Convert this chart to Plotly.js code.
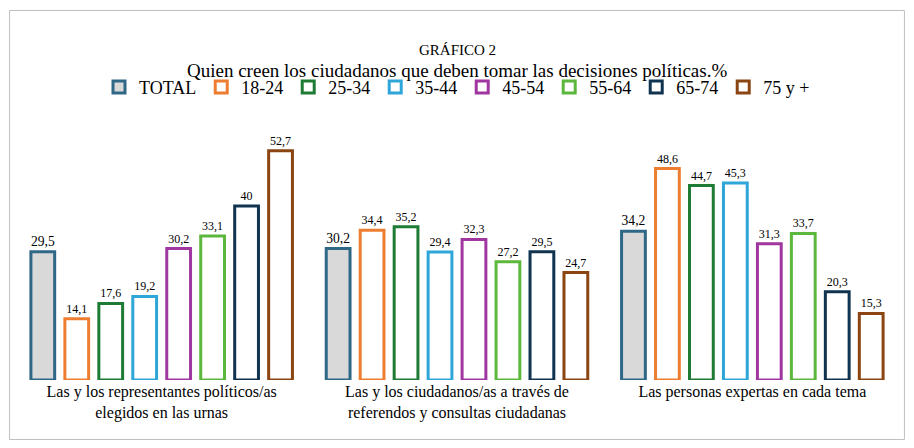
<!DOCTYPE html>
<html>
<head>
<meta charset="utf-8">
<script src="https://cdn.plot.ly/plotly-3.0.1.min.js"></script>
<style>body{margin:0}#chart{width:914px;height:448px}</style>
</head>
<body>
<div id="chart"></div>
<script>
const categories = [
  'Las y los representantes políticos/as<br>elegidos en las urnas',
  'Las y los ciudadanos/as a través de<br>referendos y consultas ciudadanas',
  'Las personas expertas en cada tema'
];
const seriesNames = ['TOTAL', '18-24', '25-34', '35-44', '45-54', '55-64', '65-74', '75 y +'];
const total = [29.5, 30.2, 34.2];
const age1824 = [14.1, 34.4, 48.6];
const age2534 = [17.6, 35.2, 44.7];
const age3544 = [19.2, 29.4, 45.3];
const age4554 = [30.2, 32.3, 31.3];
const age5564 = [33.1, 27.2, 33.7];
const age6574 = [40, 29.5, 20.3];
const age75 = [52.7, 24.7, 15.3];

const seriesValues = [total, age1824, age2534, age3544, age4554, age5564, age6574, age75];
const lineColors = ['#2f6787', '#ed7d31', '#1e7b34', '#2ea6d8', '#a0369f', '#5cb83c', '#10334f', '#8b4513'];

const data = seriesValues.map((vals, i) => ({
  type: 'bar',
  name: seriesNames[i],
  x: categories,
  y: vals,
  text: vals.map(v => String(v).replace('.', ',')),
  textposition: 'outside',
  cliponaxis: false,
  textfont: {size: i === 0 ? 15 : 12, color: '#000'},
  marker: {
    color: i === 0 ? '#d9d9d9' : '#ffffff',
    line: {color: lineColors[i], width: 3}
  }
}));

const layout = {
  width: 914,
  height: 448,
  font: {family: 'Liberation Serif, serif', color: '#000'},
  annotations: [
    {text: 'GRÁFICO 2', xref: 'paper', yref: 'paper', x: 0.5, y: 1.37, showarrow: false, font: {size: 15}},
    {text: 'Quien creen los ciudadanos que deben tomar las decisiones políticas.%', xref: 'paper', yref: 'paper',
     x: 0.5, y: 1.3, showarrow: false, font: {size: 19}}
  ],
  showlegend: true,
  legend: {
    orientation: 'h', x: 0.5, xanchor: 'center', y: 1.18, yanchor: 'middle',
    font: {size: 18}, itemwidth: 30, traceorder: 'normal'
  },
  barmode: 'group',
  bargap: 0.08,
  bargroupgap: 0.3,
  margin: {l: 14, r: 14, t: 132, b: 68},
  xaxis: {
    tickfont: {size: 16},
    showline: false,
    ticks: ''
  },
  yaxis: {range: [0, 57], visible: false},
  plot_bgcolor: '#fff',
  paper_bgcolor: '#fff',
  shapes: [{
    type: 'rect', xref: 'paper', yref: 'paper',
    x0: -0.005, x1: 1.005, y0: -0.24, y1: 1.49,
    line: {color: '#bfbfbf', width: 1}
  }]
};

Plotly.newPlot('chart', data, layout, {displayModeBar: false});
</script>
</body>
</html>
